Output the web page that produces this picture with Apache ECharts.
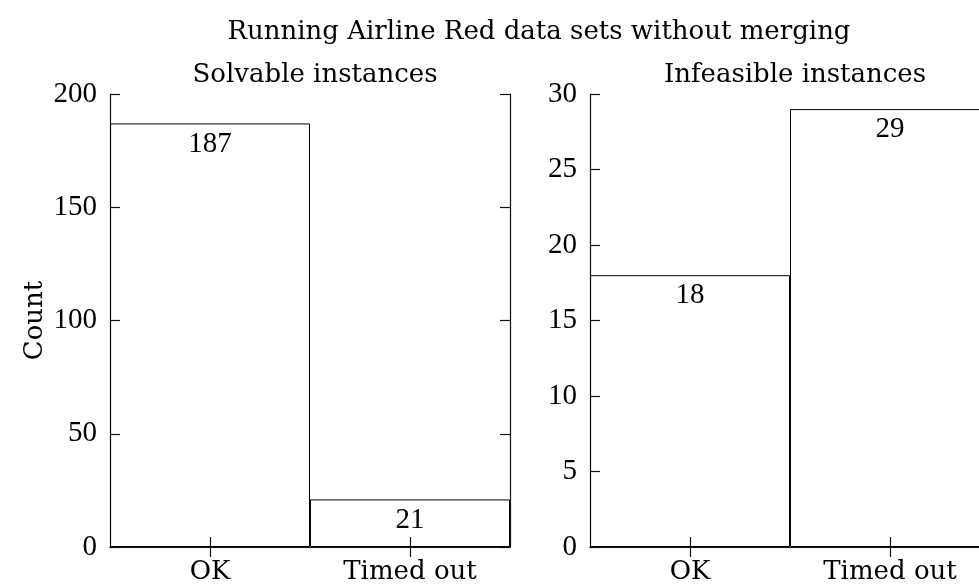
<!DOCTYPE html>
<html>
<head>
<meta charset="utf-8">
<script src="https://cdn.jsdelivr.net/npm/echarts@6/dist/echarts.min.js"></script>
<style>
html,body{margin:0;padding:0;background:#fff;}
#chart{width:979px;height:587px;}
</style>
</head>
<body>
<div id="chart"></div>
<script>
const categories = ['OK', 'Timed out'];
const solvableCounts = [187, 21];
const infeasibleCounts = [18, 29];
const solvableTicks = { min: 0, max: 200, interval: 50 };
const infeasibleTicks = { min: 0, max: 30, interval: 5 };
const mainTitle = 'Running Airline Red data sets without merging';
const panelTitles = ['Solvable instances', 'Infeasible instances'];
const yName = 'Count';

const NUMFONT = '"Liberation Serif", "Times New Roman", serif';
const WORDFONT = '"DejaVu Serif", serif';
const NFS = 29;
const WFS = 26;
const chart = echarts.init(document.getElementById('chart'));

const grids = [
  { left: 110, top: 94, width: 400, height: 453, outerBoundsMode: 'none', containLabel: false },
  { left: 590, top: 94, width: 400, height: 453, outerBoundsMode: 'none', containLabel: false }
];
const lineStyle = { color: '#111', width: 1.2 };

function xAxes(gi) {
  return [
    {
      type: 'category', gridIndex: gi, data: categories, position: 'bottom',
      boundaryGap: true,
      axisLine: { show: true, lineStyle },
      axisTick: { show: true, inside: true, length: 10, alignWithLabel: true, interval: 0, lineStyle },
      axisLabel: { color: '#000', fontFamily: WORDFONT, fontSize: WFS, margin: 12, interval: 0 },
      splitLine: { show: false }
    },
    {
      type: 'category', gridIndex: gi, data: categories, position: 'top',
      boundaryGap: true,
      axisLine: { show: true, lineStyle },
      axisTick: { show: true, inside: true, length: 10, alignWithLabel: true, interval: 0, lineStyle },
      axisLabel: { show: false },
      splitLine: { show: false }
    }
  ];
}
function yAxes(gi, t, withName) {
  return [
    {
      type: 'value', gridIndex: gi, position: 'left', min: t.min, max: t.max, interval: t.interval,
      axisLine: { show: true, lineStyle },
      axisTick: { show: true, inside: true, length: 10, lineStyle },
      axisLabel: { color: '#000', fontFamily: NUMFONT, fontSize: NFS, margin: 13 },
      splitLine: { show: false },
      name: withName ? yName : '',
      nameLocation: 'middle', nameGap: 62, nameRotate: 90,
      nameTextStyle: { color: '#000', fontFamily: WORDFONT, fontSize: WFS }
    },
    {
      type: 'value', gridIndex: gi, position: 'right', min: t.min, max: t.max, interval: t.interval,
      axisLine: { show: true, lineStyle },
      axisTick: { show: true, inside: true, length: 10, lineStyle },
      axisLabel: { show: false },
      splitLine: { show: false }
    }
  ];
}

function barSeries(xi, yi, data) {
  return {
    type: 'bar', xAxisIndex: xi, yAxisIndex: yi, data: data,
    barCategoryGap: '0%', barGap: '0%',
    itemStyle: { color: 'rgba(255,255,255,0)', borderColor: '#000', borderWidth: 1 },
    label: { show: true, position: 'insideTop', distance: 6, color: '#000', fontFamily: NUMFONT, fontSize: NFS },
    silent: true
  };
}

chart.setOption({
  backgroundColor: '#fff',
  animation: false,
  title: [
    { text: mainTitle, left: 534, top: 14, textAlign: 'center',
      textStyle: { fontFamily: WORDFONT, fontSize: WFS, fontWeight: 'normal', color: '#000' } },
    { text: panelTitles[0], left: 310, top: 57, textAlign: 'center',
      textStyle: { fontFamily: WORDFONT, fontSize: WFS, fontWeight: 'normal', color: '#000' } },
    { text: panelTitles[1], left: 790, top: 57, textAlign: 'center',
      textStyle: { fontFamily: WORDFONT, fontSize: WFS, fontWeight: 'normal', color: '#000' } }
  ],
  grid: grids,
  xAxis: [...xAxes(0), ...xAxes(1)],
  yAxis: [...yAxes(0, solvableTicks, true), ...yAxes(1, infeasibleTicks, false)],
  series: [
    barSeries(0, 0, solvableCounts),
    barSeries(2, 2, infeasibleCounts)
  ]
});
</script>
</body>
</html>
